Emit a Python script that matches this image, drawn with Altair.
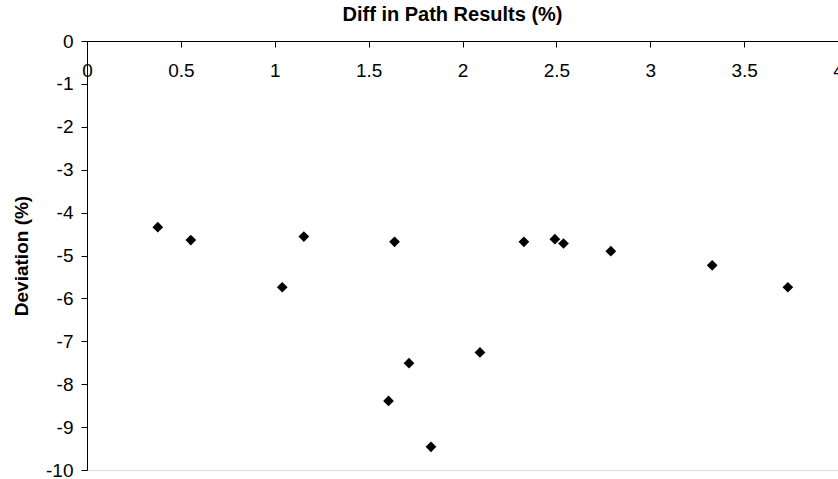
import altair as alt
import pandas as pd

# Values
diff_path = [0.377, 0.553, 1.04, 1.155, 1.606, 1.638, 1.715, 1.832, 2.093,
             2.327, 2.492, 2.538, 2.790, 3.330, 3.733]
deviation = [-4.34, -4.64, -5.74, -4.56, -8.39, -4.68, -7.51, -9.46, -7.26,
             -4.68, -4.62, -4.72, -4.90, -5.23, -5.74]
x_ticks = [0, 0.5, 1, 1.5, 2, 2.5, 3, 3.5, 4]
y_ticks = [0, -1, -2, -3, -4, -5, -6, -7, -8, -9, -10]

df = pd.DataFrame({"x": diff_path, "y": deviation})

FONT = "Liberation Sans"
W, H = 751, 429

chart = alt.Chart(df).mark_point(
    shape="diamond", filled=True, color="black", size=115, opacity=1
).encode(
    x=alt.X("x:Q", scale=alt.Scale(domain=[0, 4], nice=False, zero=False),
            axis=alt.Axis(title=None, orient="bottom", offset=-H, values=x_ticks,
                          labelExpr="'' + datum.value", grid=False,
                          domainColor="black", tickColor="black", tickSize=6,
                          labelPadding=14, labelFontSize=19, labelFont=FONT,
                          labelColor="black", labelFlush=False, labelOverlap=False)),
    y=alt.Y("y:Q", scale=alt.Scale(domain=[-10, 0], nice=False, zero=False),
            axis=alt.Axis(title="Deviation (%)", values=y_ticks,
                          labelExpr="'' + datum.value", grid=False,
                          domainColor="black", tickColor="black", tickSize=6,
                          labelPadding=8, labelFontSize=19, labelFont=FONT,
                          labelColor="black", titleFont=FONT, titleFontSize=19,
                          titleFontWeight="bold", titleColor="black",
                          titlePadding=14, labelFlush=False, labelOverlap=False)),
).properties(
    width=W, height=H,
    title=alt.TitleParams("Diff in Path Results (%)", font=FONT, fontSize=20,
                          fontWeight="bold", color="black", anchor="middle",
                          dx=-10, offset=7),
    autosize=alt.AutoSizeParams(type="none"),
    padding={"left": 87, "top": 41, "right": 0, "bottom": 9},
).configure_view(
    stroke="#808080", strokeWidth=1
).configure(background="white")

chart.save("out.html", embed_options={"renderer": "svg", "actions": False})
